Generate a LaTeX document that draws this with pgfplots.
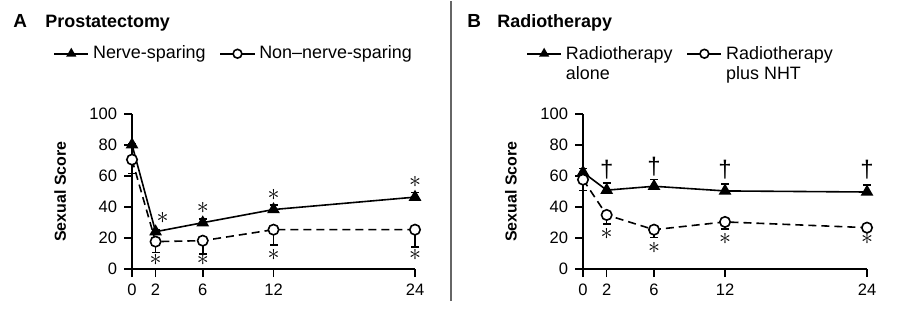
\documentclass[border=0pt]{standalone}
\usepackage{pgfplots}
\pgfplotsset{compat=1.18}
\usepackage{fontspec}
\setmainfont{Liberation Sans}

\pgfplotstableread{
x y e
0 80.3 0.5
2 24.2 1
6 30.0 2.5
12 38.5 3
24 46.5 3
}\Anerve
\pgfplotstableread{
x y e
0 70.7 9
2 17.8 7
6 18.4 8.5
12 25.5 10
24 25.5 11
}\Anon
\pgfplotstableread{
x y e
0 62.5 2.5
2 51.0 4.5
6 53.5 4.5
12 50.5 4.5
24 49.8 4.5
}\Balone
\pgfplotstableread{
x y e
0 57.8 7
2 35.0 6
6 25.5 5
12 30.5 4.5
24 26.8 0.5
}\Bnht

\tikzset{sym/.style={font=\fontsize{12}{12}\selectfont, inner sep=0pt}}
\pgfplotsset{myaxis/.style={
  scale only axis, width=141.5bp, height=77.5bp,
  xmin=0, xmax=24, ymin=0, ymax=100,
  axis lines=left, axis line style={-, line width=0.8bp},
  xtick={0,2,6,12,24}, ytick={0,20,...,100},
  tick align=outside, major tick length=4bp,
  tick style={line width=0.8bp, black},
  ticklabel style={font=\fontsize{8.3}{9}\selectfont},
  /pgf/number format/assume math mode=true,
  ylabel={Sexual Score},
  ylabel style={font=\bfseries\fontsize{8}{9}\selectfont, at={(axis description cs:-0.254,0.5)}, anchor=center},
  clip=false,
  legend style={draw=none, fill=none, font=\fontsize{9}{10}\selectfont,
    legend columns=2, /tikz/every even column/.append style={column sep=5bp}},
  legend cell align=left,
  legend image post style={solid, mark size=2.2bp},
},
tri/.style={black, line width=0.8bp, mark=triangle*, mark size=2.9bp, mark options={solid},
  error bars/.cd, y dir=plus, y explicit, error bar style={line width=0.8bp, solid},
  error mark options={rotate=90, mark size=2bp, line width=0.8bp}},
circ/.style={black, line width=0.8bp, dash pattern=on 4bp off 2.5bp, mark=*, mark size=2.6bp,
  mark options={solid, fill=white},
  error bars/.cd, y dir=minus, y explicit, error bar style={line width=0.8bp, solid},
  error mark options={rotate=90, mark size=2bp, line width=0.8bp}},
}

\begin{document}
\begin{tikzpicture}[x=1bp,y=1bp]
\path (0,0) rectangle (451,161);
\draw[black!60, line width=1.2bp] (225.5,11) -- (225.5,161);
\node[anchor=base west, font=\bfseries\fontsize{9.5}{10}\selectfont, inner sep=0] at (6.5,148) {A};
\node[anchor=base west, font=\bfseries\fontsize{9}{10}\selectfont, inner sep=0] at (22.5,148) {Prostatectomy};
\node[anchor=base west, font=\bfseries\fontsize{9.5}{10}\selectfont, inner sep=0] at (233.5,148) {B};
\node[anchor=base west, font=\bfseries\fontsize{9}{10}\selectfont, inner sep=0] at (248.5,148) {Radiotherapy};

\begin{axis}[myaxis, at={(66bp,27bp)}, anchor=south west,
  legend style={at={(-0.30,1.39)}, anchor=west}]
\addplot[tri] table[x=x, y=y, y error=e] {\Anerve};
\addlegendentry{Nerve-sparing}
\addplot[circ] table[x=x, y=y, y error=e] {\Anon};
\addlegendentry{Non\textendash nerve-sparing}
\node[sym] at (axis cs:2.6,33) {$\ast$};
\node[sym] at (axis cs:6,39.5) {$\ast$};
\node[sym] at (axis cs:12,48) {$\ast$};
\node[sym] at (axis cs:24,56) {$\ast$};
\node[sym] at (axis cs:2,6) {$\ast$};
\node[sym] at (axis cs:6,6) {$\ast$};
\node[sym] at (axis cs:12,9.5) {$\ast$};
\node[sym] at (axis cs:24,9) {$\ast$};
\end{axis}

\begin{axis}[myaxis, at={(291.5bp,27bp)}, anchor=south west, width=142bp,
  legend style={at={(-0.222,1.39)}, anchor=west}]
\addplot[tri] table[x=x, y=y, y error=e] {\Balone};
\addlegendentry{\begin{tabular}[t]{@{}l@{}}Radiotherapy\\alone\end{tabular}}
\addplot[circ] table[x=x, y=y, y error=e] {\Bnht};
\addlegendentry{\begin{tabular}[t]{@{}l@{}}Radiotherapy\\plus NHT\end{tabular}}
\node[sym] at (axis cs:2,64) {\textdagger};
\node[sym] at (axis cs:6,66) {\textdagger};
\node[sym] at (axis cs:12,64) {\textdagger};
\node[sym] at (axis cs:24,64) {\textdagger};
\node[sym] at (axis cs:2,22.5) {$\ast$};
\node[sym] at (axis cs:6,14) {$\ast$};
\node[sym] at (axis cs:12,19.5) {$\ast$};
\node[sym] at (axis cs:24,19.5) {$\ast$};
\end{axis}
\end{tikzpicture}
\end{document}
